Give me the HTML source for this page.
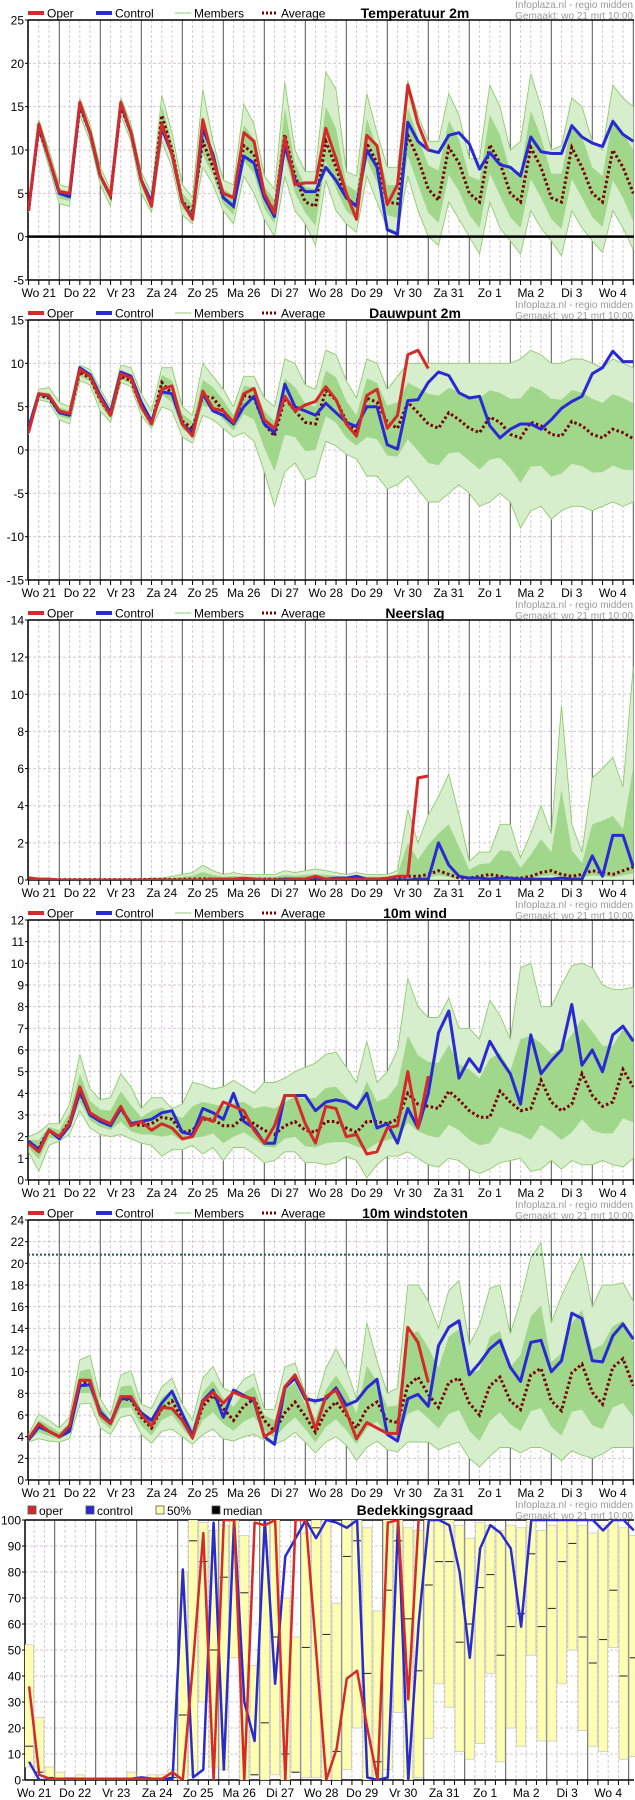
<!DOCTYPE html>
<html><head><meta charset="utf-8"><title>Pluim</title>
<style>
html,body{margin:0;padding:0;background:#fff;}
svg{display:block;font-family:"Liberation Sans",sans-serif;}
</style></head>
<body>
<svg id="chart" width="635" height="1800" viewBox="0 0 635 1800" xmlns="http://www.w3.org/2000/svg"></svg>
<script>
// ---------- data (6-hourly, first step = Wo 21 06:00) ----------
const dayLabels = ["Wo 21","Do 22","Vr 23","Za 24","Zo 25","Ma 26","Di 27","Wo 28","Do 29","Vr 30","Za 31","Zo 1","Ma 2","Di 3","Wo 4"];

const tempTicks = [-5,0,5,10,15,20,25];
const tempOper = [3,13,9,5.2,5,15.5,12,7,4.7,15.5, 12,6.5,3.5,13,9.5,4,2,13.5,9,5, 4.5,12,11,5,2.7,11.5,6,6.2,6.2,12.5, 9,5,2,11.7,10.5,3.7,6,17.5,13,10];
const tempCtrl = [3,12.8,9,5,4.6,15.3,12,7,4.7,15.3, 12,6.5,4,12.5,9.5,4,2.2,12.5,9.5,4.5, 3.5,9.3,8.5,4.5,2.3,10.5,6.5,5.2,5.2,8, 6.5,4.5,3.5,10,8,0.8,0.3,13.2,11,10, 9.7,11.7,12,10.7,7.8,9.7,8.3,8,7,11.5, 9.8,9.6,9.6,12.8,11.5,10.8,10.4,13.3,11.8,11];
const tempAvg = [3,12.5,9,5,4.7,15,12,7,4.7,15, 12,6.5,3.7,14,10,4,3,11,8,4.5, 3.5,10.5,9.5,4.5,3,11.8,7,4,3.5,11, 8,4.5,3.5,10.8,8.5,4,3.8,11.7,9,5.5, 4.2,10.3,8.5,5,4,10.6,8.5,5,4,10.3, 8,4.5,4,10.3,8,5,4,10,8,5];
const tempMax = [3.5,13.5,10,6,5.7,16,13,8,5.5,16, 13,7.5,5,16.3,12,6,4.5,17,11,6.5, 6,15.3,13,7,5.5,17.8,10,7.5,7.5,19, 17,7.5,7,16.5,12,8,8,18,14,11, 11,16.5,14,9,9,17.5,15,10,11,18.8, 15,10,10.5,16,15,11,10,17.5,16,15];
const tempMin = [2.8,12,8,3.8,3.5,14,11,6,3.5,14, 11,5,2.8,11,8,2.5,1.5,8,6,3, 1.5,7,5,2,0,7,3,1.5,-1,6.5, 3,1.5,0.5,7,4,1,0.5,7,3,0, -1,4,2,0,-2,4,1,-0.5,-2,3, 1,-0.5,-2.2,3,1,-0.5,-1.8,3,1,-1.5];

const dewTicks = [-15,-10,-5,0,5,10,15];
const dewOper = [2,6.5,6.3,4.5,4.2,9.3,8.5,6,4,8.8, 8.3,5,3,7,7.4,3,1.6,6.8,4.8,4.5, 3.2,6.5,7.1,3.5,2.5,6.2,4.5,5.2,5.6,7.3, 5.8,3,1.6,6.3,7,2.5,4,11,11.5,9.4];
const dewCtrl = [2.5,6.5,6.2,4.3,4,9.5,8.7,6.3,4.3,9, 8.5,5.5,3.3,6.7,6.5,3,2,6.5,4.5,4, 3,5,6.2,3,2,7.6,5,4.5,4,5.4, 4.3,3.2,2.7,5,5,0.6,0.1,5.7,5.8,7.8, 9,8.6,6.6,6,6.2,2.8,1.4,2.4,3,3, 2.4,3.5,4.8,5.6,6.2,8.8,9.5,11.4,10.2,10.2];
const dewAvg = [2.3,6.3,6,4.3,4.1,9,8.3,5.8,4,8.5, 8,5,3,7.8,6.5,3.3,2.5,6.2,6,4.5, 3,6.3,6,3,1.6,6,4.5,3.2,3,6.8, 5.8,3.3,2,6,5.5,3.2,2.5,5.5,4.3,3, 2.5,4.3,3.5,2.5,2,3.8,3.2,1.8,1.4,3.2, 2.8,1.8,1.6,3.3,2.8,1.8,1.4,2.4,2,1.3];
const dewMax = [3,7,7.2,5.5,5,9.8,9.3,7,5,9.8, 9.5,6.5,4.5,9.5,9.5,5,4,10,8.5,7, 5,8.5,8.5,6,5,10.5,10,7.5,7,11.5, 11,8,6,10.5,10,7,8.5,10,10,10, 10,10,10,10,10,10,10,10,10.5,11.5, 11,10,10,10.5,10.5,10,9.5,10.5,10,9.5];
const dewMin = [1.8,5.8,5.5,3.5,3,8,7.5,4.5,3.2,7.8, 7.3,4,2.5,5,4.5,1.5,0.8,4,3.5,2.5, 1.5,2,1,-2.5,-6.5,-2.5,-1.5,-3.5,-3,1, 0.5,-0.5,-1,-3,-3,-4.5,-4,-3,-4.5,-6, -6,-5,-4,-5,-6.5,-6,-5,-6,-9,-7, -6.5,-8,-7,-6.5,-6.5,-7,-6.5,-6,-6.5,-6];

const rainTicks = [0,2,4,6,8,10,12,14];
const rainOper = [0.1,0.05,0.05,0,0,0,0,0,0,0, 0,0,0,0,0,0,0,0,0.05,0.05, 0.05,0.1,0.05,0,0,0,0.05,0.05,0.2,0.05, 0.05,0.05,0.05,0.05,0.05,0.1,0.2,0.2,5.5,5.6];
const rainCtrl = [0,0,0,0,0,0,0,0,0,0, 0,0,0,0,0,0,0,0,0,0, 0,0,0,0,0,0.05,0.05,0.05,0.1,0.05, 0.1,0.1,0.2,0.05,0.05,0,0,0,0.05,0.05, 2.0,0.8,0.2,0.1,0.1,0.05,0.1,0.1,0.05,0.05, 0.05,0.05,0.1,0.05,0.05,1.3,0.2,2.4,2.4,0.7];
const rainAvg = [0.03,0.02,0.02,0.02,0.02,0.02,0.02,0.02,0.02,0.02, 0.02,0.02,0.03,0.03,0.03,0.04,0.05,0.06,0.05,0.04, 0.04,0.04,0.04,0.04,0.04,0.05,0.05,0.05,0.06,0.05, 0.05,0.04,0.05,0.05,0.05,0.06, 0.1,0.2,0.2,0.3,0.5,0.3,0.1,0.1,0.2,0.3, 0.2,0.1,0.1,0.2,0.4,0.5,0.3,0.2,0.3,0.5, 0.4,0.3,0.5,0.7];
const rainMax = [0.2,0.1,0.1,0.05,0.05,0.05,0.05,0.05,0.05,0.05, 0.05,0.05,0.1,0.1,0.2,0.3,0.4,0.8,0.5,0.3, 0.4,0.3,0.3,0.3,0.3,0.5,0.4,0.5,0.6,0.5, 0.4,0.3,0.4,0.3, 0.3,0.3,0.5,3.8,2,3.5,4.5,5.7,3.5,1, 1.5,1.5,3,3,1.2,2.5,4.0,2.5,9.4,3, 1.5,5.5,6,6.6,5,11.5];
const rainMin = [0,0,0,0,0,0,0,0,0,0, 0,0,0,0,0,0,0,0,0,0, 0,0,0,0,0,0,0,0,0,0, 0,0,0,0,0,0,0,0,0,0, 0,0,0,0,0,0,0,0,0,0, 0,0,0,0,0,0,0,0,0,0];

const windTicks = [0,1,2,3,4,5,6,7,8,9,10,11,12];
const windOper = [1.7,1.3,2.3,2,2.6,4.3,3.1,2.8,2.6,3.4, 2.5,2.7,2.3,2.6,2.4,1.9,2.0,2.9,2.7,3.6, 3.4,3.2,2.3,1.7,2.5,3.9,3.9,2.6,1.7,3.4, 3.3,2.0,2.1,1.2,1.3,2.4,2.5,5.0,2.4,4.8];
const windCtrl = [1.8,1.4,2.3,1.9,2.5,4.1,3.0,2.7,2.5,3.3, 2.6,2.7,2.8,3.1,3.2,2.2,2.1,3.3,3.1,2.8, 4.0,2.7,2.4,1.7,1.7,3.9,3.9,3.9,3.2,3.6, 3.7,3.6,3.3,4.0,2.4,2.6,1.7,3.3,2.4,4.0, 6.8,7.8,4.7,5.6,5.0,6.4,5.6,4.9,3.5,6.7, 4.9,5.5,6.0,8.1,5.3,6.0,5.0,6.7,7.1,6.4];
const windAvg = [1.7,1.5,2.3,2.0,2.7,4.0,3.1,2.8,2.6,3.3, 2.6,2.5,2.6,2.9,2.8,2.2,2.3,2.8,2.8,2.5, 2.5,2.9,2.6,2.3,2.1,2.5,2.7,2.3,2.2,2.7, 2.7,2.4,2.2,2.7,2.7,2.6,2.8,4.0,3.5,3.4, 3.3,4.1,3.7,3.2,2.9,2.9,4.1,3.6,3.2,3.3, 4.6,3.6,3.2,3.5,4.9,3.9,3.4,3.6,5.1,4.3];
const windMax = [2.0,2.2,2.6,2.6,3.5,5.8,4.2,3.7,3.8,4.9, 4.3,3.3,3.8,3.8,3.3,3.5,4.5,4.4,4.2,4.3, 4.6,4.3,4.0,4.5,4.5,4.7,5.0,5.2,5.4,5.8, 5.9,5.2,4.5,6.4,4.5,5.0,6.0,9.3,8.0,7.5, 7.5,8.4,7.0,7.0,6.5,8.3,7.6,6.5,9.8,10.0, 8.0,8.0,9.0,9.9,10.0,9.8,9.0,8.8,8.8,8.9];
const windMin = [1.3,0.4,1.6,1.8,2.1,3.2,2.4,2.1,2.0,2.1, 1.9,1.7,1.6,1.1,1.4,1.4,1.6,1.2,1.5,0.9, 1.5,1.5,1.2,0.8,0.9,1.3,1.3,0.8,0.8,0.7, 0.8,1.1,0.9,0.1,0.7,1.1,1.1,1.3,1.0,0.7, 0.6,1.0,0.9,0.5,0.3,0.5,0.8,0.9,1.0,0.4, 0.5,0.9,0.5,0.9,0.7,0.7,0.9,0.7,0.6,1.0];

const gustTicks = [0,2,4,6,8,10,12,14,16,18,20,22,24];
const gustThreshold = [20.8];
const gustOper = [3.8,5.2,4.5,4.0,5.0,9.2,9.2,6.0,5.2,7.7, 7.7,6.0,5.0,6.7,6.6,5.5,3.9,7.2,8.1,7.1, 8.1,7.7,7.5,4.0,4.6,8.6,9.7,7.7,4.7,7.7, 8.3,6.3,3.8,5.3,4.8,4.3,4.3,14.1,12.7,9.0];
const gustCtrl = [3.7,4.9,4.5,4.0,4.5,8.7,8.8,6.3,5.3,7.5, 7.5,6.2,5.5,7.1,8.2,6.1,4.1,7.3,8.3,5.8, 8.3,7.8,7.3,4.0,3.3,8.5,9.4,7.5,7.3,7.5, 8.5,6.9,7.3,8.5,9.3,4.2,3.6,7.5,7.9,6.8, 12.4,14.1,14.7,9.7,10.8,12.1,12.9,10.4,9.1,12.7, 12.9,10.0,11.0,15.4,14.9,11.0,10.9,13.3,14.4,13.0];
const gustAvg = [3.7,5.0,4.5,4.0,4.7,9.0,9.0,6.2,5.2,7.5, 7.4,5.8,4.8,6.6,7.3,5.6,4.0,6.8,7.8,6.6, 5.5,6.8,7.5,5.5,4.5,6.2,7.2,5.9,4.4,6.3, 7.2,6.0,4.8,6.6,7.2,5.5,5.3,8.7,9.5,7.9, 6.7,9.0,9.4,7.1,6.0,8.7,9.5,7.3,6.5,9.7, 10.3,7.3,6.4,9.9,10.7,8.1,7.0,10.4,11.2,8.7];
const gustMax = [4.2,6.1,5.5,4.8,5.8,11.1,11.5,7.5,6.0,9.7, 10.1,7.0,6.6,8.6,9.4,7.0,5.5,9.4,10.5,8.5, 8.0,9.3,9.8,6.5,6.5,10.4,10.8,8.0,7.0,10.3, 12.1,10.3,7.5,14.5,11.0,8.0,8.5,18.0,18.0,16.5, 14.0,17.5,18.4,12.5,14.3,17.7,18.0,13.5,16.6,20.5, 21.9,14.5,17.0,19.0,20.7,16.0,18.0,18.0,18.2,16.5];
const gustMin = [3.5,3.8,3.6,3.5,3.8,7.0,7.1,4.8,4.2,5.8, 6.0,4.2,3.4,4.5,4.7,4.0,3.3,4.2,4.7,3.8, 3.6,4.0,4.2,3.7,3.3,3.7,4.4,3.5,2.5,3.5, 4.0,3.2,1.8,3.0,3.6,2.8,2.6,3.5,3.5,3.5, 2.8,3.2,3.5,2.0,1.2,2.2,3.0,3.0,2.5,3.0, 3.0,2.5,1.8,2.7,2.3,2.0,2.4,3.0,3.0,3.0];

const cloudTicks = [0,10,20,30,40,50,60,70,80,90,100];
const cloudOper = [36,2,0.5,0.5,0.5,0.5,0.5,0.5,0.5,0.5, 0.5,0.5,0.5,0.5,3,0,45,95,0,100, 100,0,99,98,100,0,100,100,50,0, 12,39,42,20,0,99,100,31,100];
const cloudCtrl = [7,0,0,0,0,0,0,0,0,0, 0.5,1,0.5,0.5,0.5,81,1,4,99,4, 100,30,15,100,37,86,93,100,93,100, 99,97,100,1,0,1,100,0,60,100, 100,98,80,47,89,98,95,89,59,100, 100,100,100,100,100,100,96,100,100,96];
const cloudLo = [5,3,0,0,0,0,0,0,0,0, 0,0,0,0,0,0,2,30,5,4, 47,0,2,0,2,0,3,1,1,0, 0,4,20,0,0,4,26,0,1,16, 37,28,11,8,14,41,7,20,13,48, 15,15,37,50,19,13,11,51,8,9];
const cloudHi = [52,24,5,3,1,2,0.5,0.5,0.5,0.5, 3,1,2,2,4,80,100,99,96,98, 100,94,44,98,100,70,55,95,100,100, 68,100,100,97,65,100,100,97,96,100, 100,100,98,93,99,98,96,98,97,100, 96,98,100,100,98,95,98,100,97,94];
const cloudMed = [13,3,1,0.5,0.3,0.5,0.2,0.2,0.2,0.2, 0.5,0.3,0.5,0.5,1,25,92,84,50,78, 100,72,2,22,55,10,3,51,97,56, 11,86,92,41,7,73,92,62,42,75, 84,84,53,60,74,79,48,59,64,87, 59,66,84,91,55,45,54,73,40,47];

// ---------- rendering ----------
const svg = document.getElementById('chart');
const NS = 'http://www.w3.org/2000/svg';
function mk(tag, attrs, parent){
  const e = document.createElementNS(NS, tag);
  for (const k in attrs) e.setAttribute(k, attrs[k]);
  (parent||svg).appendChild(e);
  return e;
}
const PLOT_R = 634;
function xTop(t){ return 18.3 + t*1.7083; }
function xBot(t){ return 13.7 + t*1.7083; }
function stepT(i, off){ return off + 6*i; }

function frame(g, top, bottom, left, xf, tMin, yTicks, ymin, ymax, yf){
  yTicks.forEach(v=>{
    const y = yf(v);
    if (v!==ymin && v!==ymax){
      const l = mk('line',{x1:left,x2:PLOT_R,y1:y,y2:y,stroke:'#d6c8d6','stroke-width':1,'stroke-dasharray':'3,2'},g);
      
      
    }
    const tk = mk('line',{x1:left-3,x2:left,y1:y,y2:y,stroke:'#000'},g);
    
    
    const tx = mk('text',{x:left-4,y:y+4.5,'text-anchor':'end','font-size':12,fill:'#000'},g);
    tx.textContent = String(v);
    
    
  });
  for (let t=tMin; t<=372; t+=6){
    const x = xf(t);
    if (x<=left+0.5 || x>PLOT_R) continue;
    const day = (t%24===0);
    const l = mk('line',{x1:x,x2:x,y1:top,y2:bottom,stroke:day?'#555':'#d6c8d6','stroke-width':1,'stroke-dasharray':day?'none':'3,2'},g);
    
    
    const tk = mk('line',{x1:x,x2:x,y1:bottom,y2:bottom+5,stroke:'#000'},g);
    
    
  }
  dayLabels.forEach((d,i)=>{
    const x = xf(12+24*i);
    const tx = mk('text',{x:x,y:bottom+17,'text-anchor':'middle','font-size':12,fill:'#000'},g);
    tx.textContent = d;
    
    
  });
  mk('line',{x1:left,x2:PLOT_R,y1:top,y2:top,stroke:'#000','stroke-width':1.5},g);
  mk('line',{x1:left,x2:PLOT_R,y1:bottom,y2:bottom,stroke:'#000','stroke-width':1.5},g);
  mk('line',{x1:left,x2:left,y1:top,y2:bottom,stroke:'#000','stroke-width':1.5},g);
}

function credit(g, top){
  const a = mk('text',{x:633,y:top-12,'text-anchor':'end','font-size':10,fill:'#9a9a9a'},g);
  a.textContent='Infoplaza.nl - regio midden';
  
  
  const b = mk('text',{x:633,y:top-1,'text-anchor':'end','font-size':10,fill:'#9a9a9a'},g);
  b.textContent='Gemaakt: wo 21 mrt 10:00';
  
  
}

function legendLines(g, top, title){
  const y = top-7;
  const items = [
    {x:28,label:'Oper',draw:(x)=>mk('line',{x1:x,x2:x+16,y1:y,y2:y,stroke:'#d42a2a','stroke-width':4},g)},
    {x:96,label:'Control',draw:(x)=>mk('line',{x1:x,x2:x+16,y1:y,y2:y,stroke:'#2a2ad4','stroke-width':4},g)},
    {x:175,label:'Members',draw:(x)=>mk('line',{x1:x,x2:x+16,y1:y,y2:y,stroke:'#8fcc70','stroke-width':1},g)},
    {x:262,label:'Average',draw:(x)=>mk('line',{x1:x,x2:x+16,y1:y,y2:y,stroke:'#7a0000','stroke-width':3,'stroke-dasharray':'2,2'},g)}
  ];
  items.forEach(it=>{
    const sw = it.draw(it.x);
    
    
    const t = mk('text',{x:it.x+19,y:y+4.5,'font-size':12,fill:'#000'},g);
    t.textContent = it.label;
    
    
  });
  const tt = mk('text',{x:415,y:y+5,'text-anchor':'middle','font-size':14,'font-weight':'bold',fill:'#000'},g);
  tt.textContent = title;
  
  
}

function pts(arr, off, xf, yf){
  return arr.map((v,i)=> xf(stepT(i,off)).toFixed(1)+','+yf(v).toFixed(1)).join(' ');
}

function ensemblePanel(idx, title, ticks, oper, ctrl, avg, mx, mn, zeroLine, thresh){
  const top = 20+300*idx, bottom = 280+300*idx;
  const ymin = ticks[0], ymax = ticks[ticks.length-1];
  const yf = v => bottom - (v-ymin)/(ymax-ymin)*(bottom-top);
  const g = mk('g',{});
  
  
  frame(g, top, bottom, 28, xTop, 6, ticks, ymin, ymax, yf);
  credit(g, top);
  legendLines(g, top, title);
  const clip = 'clip'+idx;
  const cp = mk('clipPath',{id:clip},g);
  mk('rect',{x:28,y:top,width:PLOT_R-28,height:bottom-top},cp);
  const dg = mk('g',{'clip-path':'url(#'+clip+')'},g);
  const upper = mx.map((v,i)=>xTop(stepT(i,6)).toFixed(1)+','+yf(v).toFixed(1));
  const lower = mn.map((v,i)=>xTop(stepT(i,6)).toFixed(1)+','+yf(v).toFixed(1)).reverse();
  const env = mk('polygon',{points:upper.concat(lower).join(' '),fill:'#d6eecb',stroke:'none'},dg);
  
  
  const iu = avg.map((v,i)=>xTop(stepT(i,6)).toFixed(1)+','+yf((v+mx[i])/2).toFixed(1));
  const il = avg.map((v,i)=>xTop(stepT(i,6)).toFixed(1)+','+yf((v+mn[i])/2).toFixed(1)).reverse();
  const core = mk('polygon',{points:iu.concat(il).join(' '),fill:'#6cbf4c','fill-opacity':0.5,stroke:'none'},dg);
  
  
  [mx,mn].forEach((arr,j)=>{
    const l = mk('polyline',{points:pts(arr,6,xTop,yf),fill:'none',stroke:'#8fcc70','stroke-width':0.9},dg);
    
    
  });
  if (zeroLine){
    const z = mk('line',{x1:28,x2:PLOT_R,y1:yf(0),y2:yf(0),stroke:'#000','stroke-width':2.5},g);
    
    
  }
  if (thresh){
    thresh.forEach(v=>{
      const th = mk('line',{x1:28,x2:PLOT_R,y1:yf(v),y2:yf(v),stroke:'#1d5a4a','stroke-width':2,'stroke-dasharray':'2,2'},g);
      
      
    });
  }
  const a = mk('polyline',{points:pts(avg,6,xTop,yf),fill:'none',stroke:'#7a0000','stroke-width':3,'stroke-dasharray':'2.5,2.5'},dg);
  
  
  const c = mk('polyline',{points:pts(ctrl,6,xTop,yf),fill:'none',stroke:'#2a2ad4','stroke-width':3,'stroke-linejoin':'round'},dg);
  
  
  const o = mk('polyline',{points:pts(oper,6,xTop,yf),fill:'none',stroke:'#d42a2a','stroke-width':3,'stroke-linejoin':'round'},dg);
  
  
}

ensemblePanel(0,'Temperatuur 2m',tempTicks,tempOper,tempCtrl,tempAvg,tempMax,tempMin,true,null);
ensemblePanel(1,'Dauwpunt 2m',dewTicks,dewOper,dewCtrl,dewAvg,dewMax,dewMin,false,null);
ensemblePanel(2,'Neerslag',rainTicks,rainOper,rainCtrl,rainAvg,rainMax,rainMin,false,null);
ensemblePanel(3,'10m wind',windTicks,windOper,windCtrl,windAvg,windMax,windMin,false,null);
ensemblePanel(4,'10m windstoten',gustTicks,gustOper,gustCtrl,gustAvg,gustMax,gustMin,false,gustThreshold);

(function(){
  const top = 1520, bottom = 1780, left = 25;
  const yf = v => bottom - v/100*(bottom-top);
  const g = mk('g',{});
  
  
  frame(g, top, bottom, left, xBot, 6, cloudTicks, 0, 100, yf);
  credit(g, top);
  const ly = top-9;
  const leg = [{x:28,c:'#d42a2a',l:'oper'},{x:86,c:'#2a2ad4',l:'control'},{x:156,c:'#ffffa8',l:'50%'},{x:212,c:'#000',l:'median'}];
  leg.forEach(it=>{
    const r = mk('rect',{x:it.x,y:ly-5,width:8,height:8,fill:it.c,stroke:'#555','stroke-width':0.8},g);
    
    
    const t = mk('text',{x:it.x+11,y:ly+4,'font-size':12,fill:'#000'},g);
    t.textContent = it.l;
    
    
  });
  const tt = mk('text',{x:415,y:ly+4,'text-anchor':'middle','font-size':14,'font-weight':'bold',fill:'#000'},g);
  tt.textContent = 'Bedekkingsgraad';
  
  
  const cp = mk('clipPath',{id:'clip5'},g);
  mk('rect',{x:left,y:top,width:PLOT_R-left+1,height:bottom-top},cp);
  const dg = mk('g',{'clip-path':'url(#clip5)'},g);
  cloudHi.forEach((hi,i)=>{
    const x = xBot(stepT(i,9));
    const lo = cloudLo[i];
    const b = mk('rect',{x:x-4.5,y:yf(hi),width:9,height:Math.max(0.5,yf(lo)-yf(hi)),fill:'#ffffb0',stroke:'#c8c8c8','stroke-width':0.8},dg);
    
    
  });
  cloudMed.forEach((m,i)=>{
    const x = xBot(stepT(i,9));
    const l = mk('line',{x1:x-4,x2:x+4,y1:yf(m),y2:yf(m),stroke:'#222','stroke-width':1},dg);
    
    
  });
  const c = mk('polyline',{points:pts(cloudCtrl,9,xBot,yf),fill:'none',stroke:'#2a2ad4','stroke-width':2.5,'stroke-linejoin':'round'},dg);
  
  
  const o = mk('polyline',{points:pts(cloudOper,9,xBot,yf),fill:'none',stroke:'#d42a2a','stroke-width':2.5,'stroke-linejoin':'round'},dg);
  
  
})();
</script>
</body></html>
